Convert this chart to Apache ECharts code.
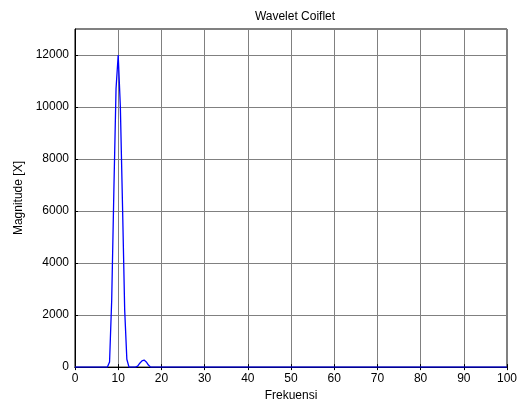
<!DOCTYPE html>
<html><head><meta charset="utf-8">
<script src="https://cdn.jsdelivr.net/npm/echarts@6/dist/echarts.min.js"></script>
<style>html,body{margin:0;padding:0;background:#fff}#c{width:522px;height:407px}</style>
</head><body><div id="c"></div>
<script>
var title = "Wavelet Coiflet";
var xName = "Frekuensi";
var yName = "Magnitude [X]";
var freq = [0, 7.5, 8, 8.5, 9, 9.5, 10, 10.5, 11, 11.5, 12, 12.5, 14, 14.5, 15, 15.5, 16, 16.5, 17, 17.5, 100];
var magnitude = [0, 0, 200, 2600, 6800, 10700, 12000, 10000, 6200, 2200, 300, 0, 0, 40, 150, 240, 270, 200, 80, 0, 0];

var pts = freq.map(function (f, i) { return [f, magnitude[i]]; });
var font = "'Liberation Sans', Arial, sans-serif";
var chart = echarts.init(document.getElementById('c'));
var gridLine = {show: true, lineStyle: {color: '#808080', width: 1, type: 'solid'}};
chart.setOption({
  animation: false,
  backgroundColor: '#fff',
  title: {text: title, left: 290, top: 6, textAlign: 'center',
    textStyle: {fontFamily: font, fontSize: 12, fontWeight: 'normal', color: '#000'}},
  grid: {left: 75, right: 15, top: 29, bottom: 36, show: true, borderColor: '#000', borderWidth: 1},
  xAxis: [{
    type: 'value', min: 0, max: 100, interval: 10,
    name: xName, nameLocation: 'middle', nameGap: 19,
    nameTextStyle: {fontFamily: font, fontSize: 12, color: '#000'},
    axisLine: {show: true, onZero: false, lineStyle: {color: '#000', width: 1}},
    axisTick: {show: true, inside: true, length: 3, lineStyle: {color: '#000'}},
    axisLabel: {fontFamily: font, fontSize: 12, color: '#000', margin: 6},
    splitLine: gridLine
  }, {
    type: 'value', min: 0, max: 100, interval: 10, position: 'top',
    axisLine: {show: true, lineStyle: {color: '#000', width: 1}},
    axisTick: {show: true, inside: true, length: 3, lineStyle: {color: '#000'}},
    axisLabel: {show: false}, splitLine: {show: false}
  }],
  yAxis: [{
    type: 'value', min: 0, max: 13000, interval: 2000,
    name: yName, nameLocation: 'middle', nameGap: 40,
    nameTextStyle: {fontFamily: font, fontSize: 12, color: '#000'},
    axisLine: {show: true, onZero: false, lineStyle: {color: '#000', width: 1}},
    axisTick: {show: true, inside: true, length: 3, lineStyle: {color: '#000'}},
    axisLabel: {fontFamily: font, fontSize: 12, color: '#000', margin: 6,
      showMaxLabel: false,
      formatter: function (v) { return v % 2000 === 0 ? String(v) : ''; }},
    splitLine: gridLine
  }],
  series: [{
    type: 'line', data: pts, showSymbol: false, symbol: 'none',
    lineStyle: {color: '#0000ff', width: 1.3}, z: 5
  }]
});
</script></body></html>
